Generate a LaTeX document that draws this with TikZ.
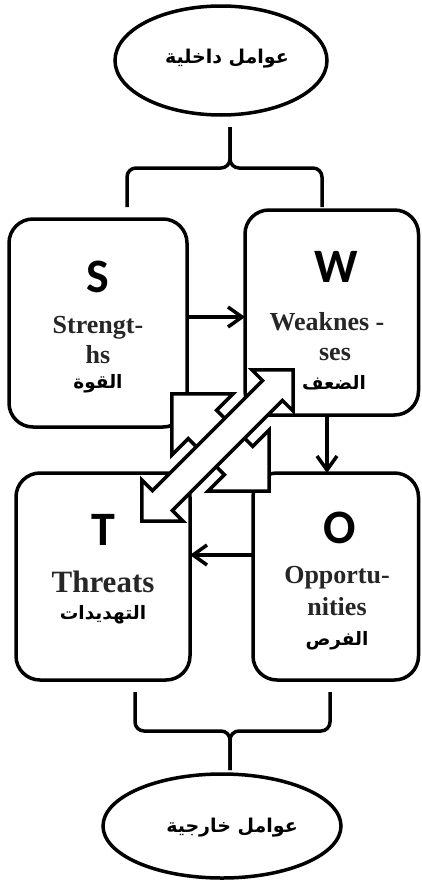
\documentclass[tikz,border=0pt]{standalone}
\usepackage{fontspec}
\setmainfont{Liberation Serif}
\newfontfamily\arabicfont[Script=Arabic]{DejaVu Sans}
\newfontfamily\letterfont{Carlito}
\TeXXeTstate=1
\usetikzlibrary{shapes.geometric,arrows.meta}
\begin{document}
\begin{tikzpicture}[x=1pt,y=-1pt,
  box/.style={draw, line width=3.5pt, rounded corners=24pt, inner sep=0pt, outer sep=0pt},
  oval/.style={draw, ellipse, line width=3.5pt, inner sep=0pt, outer sep=0pt},
  conn/.style={line width=3.5pt, -{Straight Barb[length=14pt,width=20pt]}},
  bracket/.style={line width=3.5pt, rounded corners=9pt},
  big/.style={font=\letterfont\bfseries\fontsize{48}{48}\selectfont, inner sep=0pt, anchor=base},
  eng/.style={font=\bfseries\fontsize{26}{26}\selectfont, text=black!85, inner sep=0pt, anchor=base},
  ar/.style={font=\arabicfont\bfseries\fontsize{18.5}{18.5}\selectfont, inner sep=0pt, anchor=base},
  arbig/.style={font=\arabicfont\bfseries\fontsize{19}{19}\selectfont, inner sep=0pt, anchor=base},
  dblarrow/.style={draw, fill=white, line width=3.5pt, line join=miter}
]
\useasboundingbox (0,0) rectangle (421,881);

% ellipses
\node[oval, minimum width=212pt, minimum height=109pt] (In) at (221,60.5) {};
\node[arbig] (InT) at (227,63) {\beginR عوامل داخلية\endR};
\node[oval, minimum width=238pt, minimum height=104pt] (Ex) at (222,826) {};
\node[arbig] (ExT) at (232,832) {\beginR عوامل خارجية\endR};

% brackets
\draw[bracket] (127,207) -- (127,168) -- (230,168) -- (230,127);
\draw[bracket] (322,207) -- (322,168) -- (230,168) -- (230,127);
\draw[bracket] (135,692) -- (135,731) -- (230,731) -- (230,770);
\draw[bracket] (330,692) -- (330,731) -- (230,731) -- (230,770);

% boxes
\node[box, minimum width=178pt, minimum height=208pt] (S) at (98,323) {};
\node[box, minimum width=173.5pt, minimum height=205pt] (W) at (331.75,312.5) {};
\node[box, minimum width=174pt, minimum height=207pt] (T) at (103,576.5) {};
\node[box, minimum width=165.5pt, minimum height=207pt] (O) at (335.75,576.5) {};

% texts
\node[big] (Sl) at (98,292) {S};
\node[eng] (S1) at (98,333) {Strengt-};
\node[eng] (S2) at (98,363) {hs};
\node[ar] (S3) at (98,388) {\beginR القوة\endR};

\node[big] (Wl) at (336,282) {W};
\node[eng] (W1) at (327,330) {Weaknes -};
\node[eng] (W2) at (335,360) {ses};
\node[ar] (W3) at (334,389) {\beginR الضعف\endR};

\node[big] (Tl) at (103,545) {T};
\node[eng, font=\bfseries\fontsize{31}{31}\selectfont] (T1) at (103,592) {Threats};
\node[ar] (T2) at (103,619) {\beginR التهديدات\endR};

\node[big] (Ol) at (340,543) {O};
\node[eng] (O1) at (337,583) {Opportu-};
\node[eng] (O2) at (337,615) {nities};
\node[ar] (O3) at (337,645) {\beginR الفرص\endR};

% connectors
\coordinate (ySW) at (0,317);
\draw[conn] (S.east |- ySW) -- (W.west |- ySW);
\coordinate (xWO) at (327,0);
\draw[conn] (xWO |- W.south) -- (xWO |- O.north);
\coordinate (yOT) at (0,555);
\draw[conn] (O.west |- yOT) -- (T.east |- yOT);

% S-O double arrow (behind)
\begin{scope}[shift={(220.5,442.5)}, rotate=-45]
\draw[dblarrow] (68.6,0) -- (25.6,43) -- (25.6,20) -- (-25.6,20) -- (-25.6,43) -- (-68.6,0)
  -- (-25.6,-43) -- (-25.6,-20) -- (25.6,-20) -- (25.6,-43) -- cycle;
\end{scope}
% T-W double arrow (front)
\begin{scope}[shift={(217.5,445.5)}, rotate=45]
\draw[dblarrow] (106.8,0) -- (77.8,29) -- (77.8,14) -- (-77.8,14) -- (-77.8,29) -- (-106.8,0)
  -- (-77.8,-29) -- (-77.8,-14) -- (77.8,-14) -- (77.8,-29) -- cycle;
\end{scope}
\end{tikzpicture}
\end{document}
